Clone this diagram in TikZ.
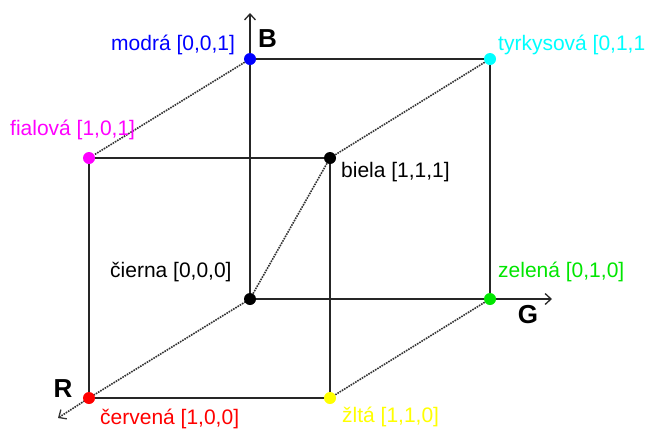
\documentclass[tikz,border=0pt]{standalone}
\usepackage{fontspec}
\setmainfont{Liberation Sans}
\usetikzlibrary{arrows.meta,backgrounds}
\definecolor{zelen}{RGB}{0,230,0}
\definecolor{zlta}{RGB}{255,255,0}
\definecolor{tyrk}{RGB}{0,255,255}
\definecolor{fial}{RGB}{255,0,255}
\begin{document}
\begin{tikzpicture}[x=1pt,y=-1pt,
  dot/.style={circle,inner sep=0pt,minimum size=12pt},
  edge/.style={line width=1.8pt,black!85},
  hidden/.style={line width=1.6pt,black!80,dash pattern=on 1.6pt off 1pt},
  axistip/.style={-{Straight Barb[length=6pt,width=11pt,line width=1.3pt]}},
  lbl/.style={inner sep=0pt,anchor=west,font=\fontsize{21}{21}\selectfont},
  axlbl/.style={inner sep=0pt,font=\fontsize{26}{26}\selectfont\bfseries},
]
\clip (0,0) rectangle (645,432);
% vertices
\node[dot,fill=black] (o) at (250,299) {};
\node[dot,fill=blue]  (b) at (250,59) {};
\node[dot,fill=tyrk]  (c) at (490,59) {};
\node[dot,fill=zelen] (g) at (490,299) {};
\node[dot,fill=fial]  (m) at (89,158) {};
\node[dot,fill=black] (w) at (330,158) {};
\node[dot,fill=red]   (r) at (89,398) {};
\node[dot,fill=zlta]  (y) at (330,398) {};
\coordinate (btip) at (250,13);
\coordinate (gtip) at (552,299);
\coordinate (rtip) at (58,418);
\begin{pgfonlayer}{background}
\fill[white] (0,0) rectangle (645,432);
% solid edges
\draw[edge] (b) -- (c);
\draw[edge] (m) -- (w);
\draw[edge] (m) -- (r);
\draw[edge] (r) -- (y);
\draw[edge] (w) -- (y);
\draw[edge] (c) -- (g);
\draw[edge] (o.center) -- (b.center);
\draw[edge,axistip] (b.center) -- (btip);
\draw[edge] (o.center) -- (g.center);
\draw[edge,axistip] (g.center) -- (gtip);
% dotted edges
\draw[hidden] (b) -- (m);
\draw[hidden] (c) -- (w);
\draw[hidden] (g) -- (y);
\draw[hidden] (o) -- (w);
\draw[hidden] (o.center) -- (r.center);
\draw[hidden,axistip] (r.center) -- (rtip);
\end{pgfonlayer}
% axis labels
\node[axlbl] (lB) at (267.5,39) {B};
\node[axlbl] (lR) at (63,388.5) {R};
\node[axlbl] (lG) at (528,315) {G};
% vertex labels
\node[lbl,text=blue]  (tb) at (111,45) {modrá [0,0,1]};
\node[lbl,text=fial]  (tm) at (10,130) {fialová [1,0,1]};
\node[lbl,text=tyrk]  (tc) at (498,45) {tyrkysová [0,1,1]};
\node[lbl,text=black] (tw) at (341,172) {biela [1,1,1]};
\node[lbl,text=black] (to) at (110,272) {čierna [0,0,0]};
\node[lbl,text=zelen] (tg) at (498,272) {zelená [0,1,0]};
\node[lbl,text=red]   (tr) at (100,419) {červená [1,0,0]};
\node[lbl,text=zlta]  (ty) at (342,417) {žltá [1,1,0]};
\end{tikzpicture}
\end{document}
